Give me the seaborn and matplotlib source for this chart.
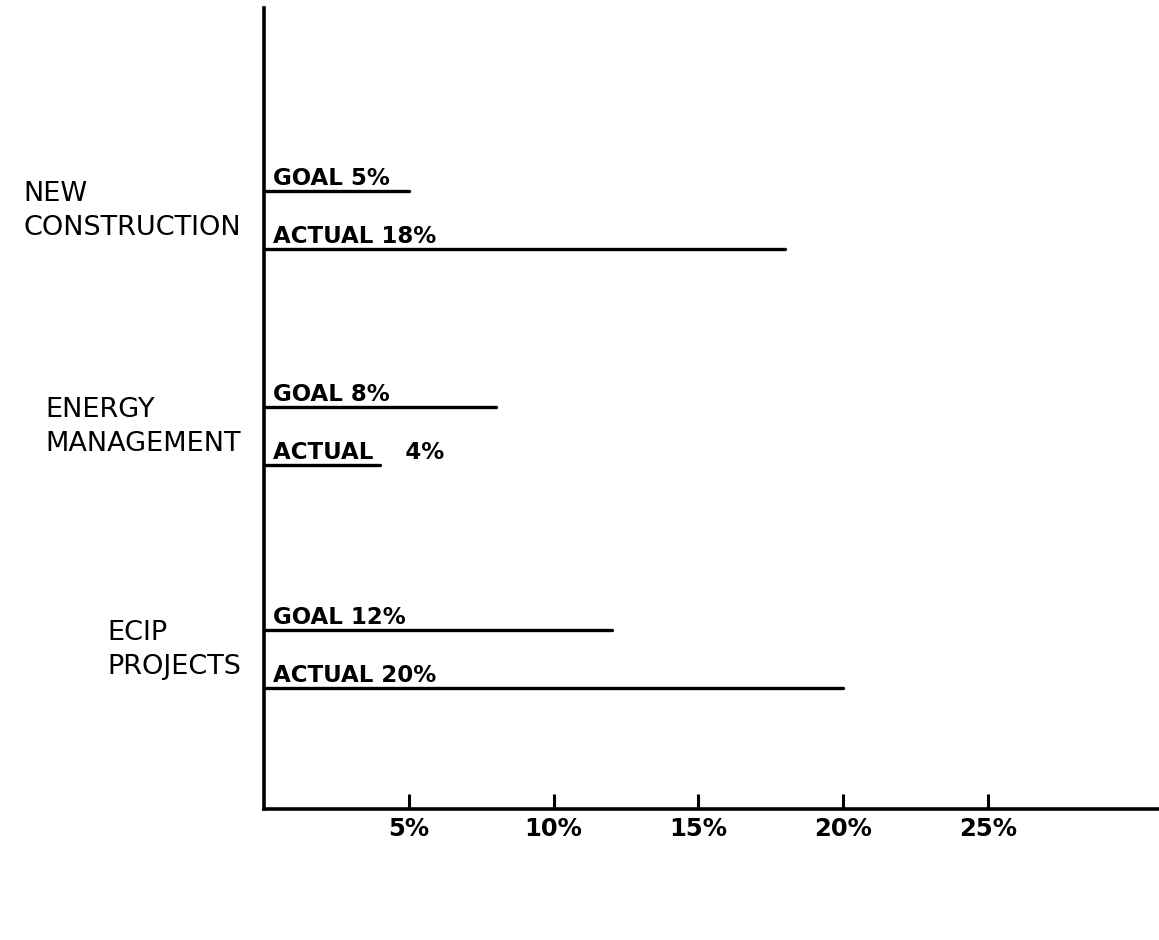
import matplotlib
matplotlib.use('Agg')
import matplotlib.pyplot as plt
import seaborn as sns
import pandas as pd

# data
categories = ['NEW\nCONSTRUCTION', 'ENERGY\nMANAGEMENT', 'ECIP\nPROJECTS']
goal_pct = [5, 8, 12]
actual_pct = [18, 4, 20]
goal_labels = ['GOAL 5%', 'GOAL 8%', 'GOAL 12%']
actual_labels = ['ACTUAL 18%', 'ACTUAL    4%', 'ACTUAL 20%']
tick_values = [5, 10, 15, 20, 25]
tick_labels = ['5%', '10%', '15%', '20%', '25%']

# layout: rows (pixel rows from top) of the goal lines and gap down to the actual line
goal_rows = [191, 407, 630]
actual_gap = 58

sns.set_style('white')
plt.rcParams['font.family'] = ['DejaVu Sans']
plt.rcParams['text.color'] = 'black'
plt.rcParams['xtick.color'] = 'black'
plt.rcParams['axes.labelcolor'] = 'black'

rows = []
for i in range(len(categories)):
    segs = [('GOAL', goal_pct[i], goal_rows[i]),
            ('ACTUAL', actual_pct[i], goal_rows[i] + actual_gap)]
    for kind, val, yy in segs:
        for xx in (0, val):
            rows.append({'seg': f'{i}-{kind}', 'x': xx, 'y': yy})
df = pd.DataFrame(rows)

fig = plt.figure(figsize=(11.59, 9.40), dpi=100)
ax = fig.add_axes([264/1159, 1 - 809/940, 1 - 264/1159, (809 - 8)/940])

sns.lineplot(data=df, x='x', y='y', units='seg', estimator=None, sort=False,
             color='black', lw=2.4, ax=ax, legend=False)

ax.set_xlim(0, 30.9)
ax.set_ylim(809, 8)

# bar labels
for i in range(len(categories)):
    ax.text(0.32, goal_rows[i] - 6, goal_labels[i], fontsize=16.5, fontweight='bold',
            ha='left', va='baseline', color='black')
    ax.text(0.32, goal_rows[i] + actual_gap - 6, actual_labels[i], fontsize=16.5,
            fontweight='bold', ha='left', va='baseline', color='black')
    # category names to the left of the axis
    ax.text(-0.8, goal_rows[i] + 20, categories[i], fontsize=19.5, ha='right',
            va='center', multialignment='left', linespacing=1.4, clip_on=False,
            color='black')

ax.set_xticks(tick_values, tick_labels)
ax.set_yticks([])
ax.tick_params(axis='x', direction='in', length=11, width=2.2, labelsize=17.5, pad=6,
               bottom=True, color='black', labelcolor='black')
for lbl in ax.get_xticklabels():
    lbl.set_fontweight('bold')
ax.set_xlabel('')
ax.set_ylabel('')

sns.despine(ax=ax, top=True, right=True)
for side in ['left', 'bottom']:
    ax.spines[side].set_linewidth(2.6)
    ax.spines[side].set_color('black')

fig.savefig('out.png', dpi=100, facecolor='white')
